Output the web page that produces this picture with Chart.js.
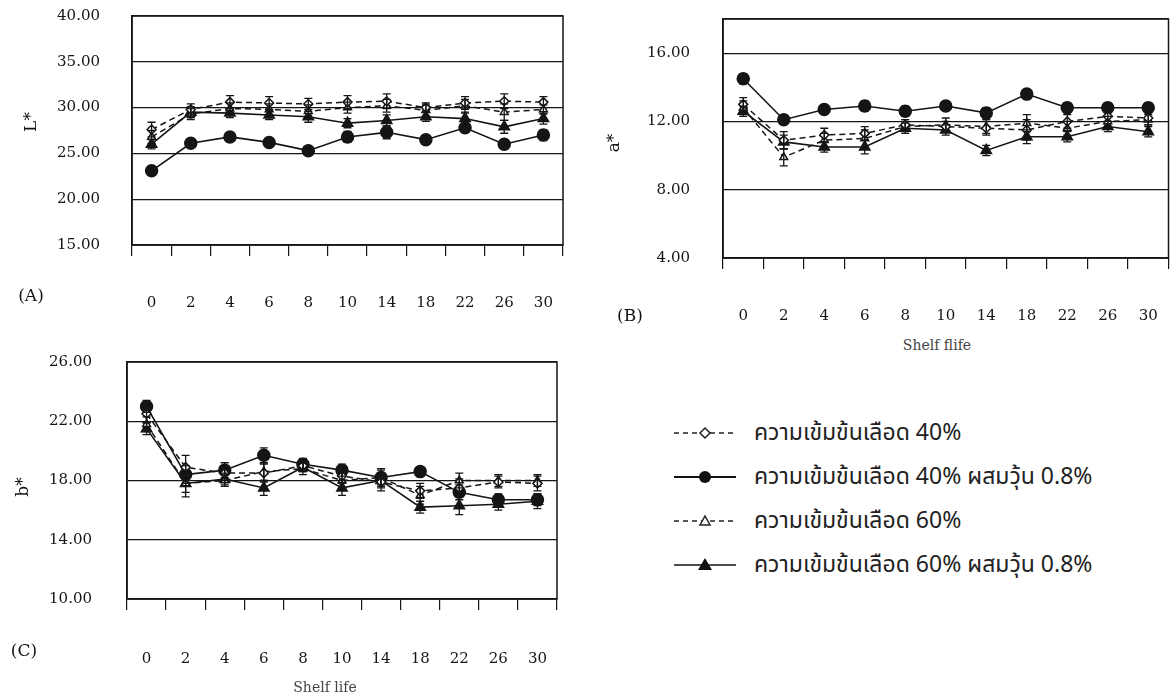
<!DOCTYPE html>
<html>
<head>
<meta charset="utf-8">
<script src="https://cdn.jsdelivr.net/npm/chart.js@4.4.1/dist/chart.umd.min.js"></script>
<style>
  body { margin: 0; background: #fff; width: 1176px; height: 696px; position: relative; overflow: hidden; }
  .box { position: absolute; }
  .lbl { position: absolute; font-family: "DejaVu Serif", serif; font-size: 17px; color: #111; white-space: nowrap; transform: translate(-50%, -50%); }
  .rot { transform: translate(-50%, -50%) rotate(-90deg); }
  .small { font-size: 14px; color: #444; }
  #legend { position: absolute; left: 674px; top: 411px; }
  .row { height: 44px; display: flex; align-items: center; }
  .row span { font-family: "Noto Sans Thai", "Noto Sans", sans-serif; font-size: 23px; margin-left: 18px; color: #222; }
</style>
</head>
<body>
<div class="box" style="left:0;top:0;width:580px;height:330px"><canvas id="chartL"></canvas></div>
<div class="box" style="left:580px;top:0;width:596px;height:330px"><canvas id="chartA"></canvas></div>
<div class="box" style="left:0;top:330px;width:580px;height:366px"><canvas id="chartB"></canvas></div>

<div class="lbl rot" style="left:30px;top:122px">L*</div>
<div class="lbl" style="left:31px;top:295px">(A)</div>
<div class="lbl rot" style="left:613px;top:143px">a*</div>
<div class="lbl" style="left:630px;top:315px">(B)</div>
<div class="lbl small" style="left:937px;top:345px">Shelf flife</div>
<div class="lbl rot" style="left:22px;top:487px">b*</div>
<div class="lbl" style="left:24px;top:650px">(C)</div>
<div class="lbl small" style="left:325px;top:687px">Shelf life</div>

<div id="legend">
  <div class="row">
    <svg width="62" height="20"><line x1="0" y1="10" x2="62" y2="10" stroke="#222" stroke-width="1.5" stroke-dasharray="5,4"/><polygon points="31,5 36,10 31,15 26,10" fill="#fff" stroke="#222" stroke-width="1.5"/></svg>
    <span>ความเข้มข้นเลือด 40%</span>
  </div>
  <div class="row">
    <svg width="62" height="20"><line x1="0" y1="10" x2="62" y2="10" stroke="#111" stroke-width="2"/><circle cx="31" cy="10" r="6" fill="#111"/></svg>
    <span>ความเข้มข้นเลือด 40% ผสมวุ้น 0.8%</span>
  </div>
  <div class="row">
    <svg width="62" height="20"><line x1="0" y1="10" x2="62" y2="10" stroke="#222" stroke-width="1.5" stroke-dasharray="5,4"/><polygon points="31,5 36,14 26,14" fill="#fff" stroke="#222" stroke-width="1.5"/></svg>
    <span>ความเข้มข้นเลือด 60%</span>
  </div>
  <div class="row">
    <svg width="62" height="20"><line x1="0" y1="10" x2="62" y2="10" stroke="#111" stroke-width="1.5"/><polygon points="31,3 38,15 24,15" fill="#111"/></svg>
    <span>ความเข้มข้นเลือด 60% ผสมวุ้น 0.8%</span>
  </div>
</div>

<script>
// shelf life (days)
const shelfDays = ['0', '2', '4', '6', '8', '10', '14', '18', '22', '26', '30'];
const seriesNames = ['ความเข้มข้นเลือด 40%', 'ความเข้มข้นเลือด 40% ผสมวุ้น 0.8%',
                     'ความเข้มข้นเลือด 60%', 'ความเข้มข้นเลือด 60% ผสมวุ้น 0.8%'];

// L*
const lBlood40     = [27.6, 29.8, 30.6, 30.5, 30.4, 30.6, 30.7, 30.0, 30.5, 30.7, 30.6];
const lBlood40Agar = [23.1, 26.1, 26.8, 26.2, 25.3, 26.8, 27.3, 26.5, 27.8, 26.0, 27.0];
const lBlood60     = [26.8, 29.3, 29.9, 29.8, 29.6, 30.0, 30.2, 29.7, 30.2, 29.5, 29.8];
const lBlood60Agar = [26.0, 29.5, 29.4, 29.2, 29.0, 28.3, 28.6, 29.0, 28.8, 27.9, 28.8];
const lErr40       = [0.8, 0.6, 0.7, 0.7, 0.6, 0.7, 0.8, 0.5, 0.7, 0.8, 0.6];
const lErr40Agar   = [0.4, 0.3, 0.4, 0.4, 0.3, 0.6, 0.7, 0.4, 0.5, 0.5, 0.6];
const lErr60       = [0.7, 0.6, 0.6, 0.6, 0.7, 0.6, 0.7, 0.6, 0.7, 0.9, 0.5];
const lErr60Agar   = [0.5, 0.6, 0.5, 0.5, 0.6, 0.5, 0.6, 0.5, 0.6, 0.7, 0.6];
const lTicks = [15, 20, 25, 30, 35, 40];

// a*
const aBlood40     = [13.0, 10.9, 11.2, 11.3, 11.8, 11.7, 11.6, 11.5, 12.0, 12.3, 12.2];
const aBlood40Agar = [14.5, 12.1, 12.7, 12.9, 12.6, 12.9, 12.5, 13.6, 12.8, 12.8, 12.8];
const aBlood60     = [12.8, 9.9, 10.9, 11.0, 11.7, 11.8, 11.7, 11.9, 11.6, 12.0, 12.1];
const aBlood60Agar = [12.6, 10.8, 10.5, 10.5, 11.6, 11.5, 10.3, 11.1, 11.1, 11.7, 11.4];
const aErr40       = [0.4, 0.5, 0.4, 0.4, 0.3, 0.3, 0.4, 0.6, 0.4, 0.3, 0.4];
const aErr40Agar   = [0.3, 0.2, 0.2, 0.3, 0.3, 0.2, 0.3, 0.2, 0.3, 0.3, 0.3];
const aErr60       = [0.4, 0.5, 0.4, 0.5, 0.3, 0.4, 0.4, 0.5, 0.4, 0.3, 0.3];
const aErr60Agar   = [0.3, 0.4, 0.3, 0.4, 0.3, 0.3, 0.3, 0.4, 0.3, 0.3, 0.3];
const aTicks = [4, 8, 12, 16];
const aMax = 18;

// b*
const bBlood40     = [22.5, 18.9, 18.5, 18.5, 19.0, 18.3, 17.9, 17.3, 17.5, 17.9, 17.8];
const bBlood40Agar = [23.0, 18.4, 18.7, 19.7, 19.1, 18.7, 18.2, 18.6, 17.2, 16.7, 16.7];
const bBlood60     = [21.8, 17.8, 18.0, 18.6, 18.8, 18.0, 18.2, 17.0, 18.0, 18.0, 18.0];
const bBlood60Agar = [21.5, 17.8, 18.1, 17.5, 18.9, 17.5, 18.0, 16.2, 16.3, 16.4, 16.6];
const bErr40       = [0.6, 0.8, 0.5, 0.6, 0.4, 0.5, 0.6, 0.5, 0.6, 0.4, 0.5];
const bErr40Agar   = [0.4, 0.6, 0.5, 0.5, 0.4, 0.4, 0.5, 0.3, 0.5, 0.4, 0.4];
const bErr60       = [0.5, 0.9, 0.4, 0.6, 0.4, 0.5, 0.6, 0.6, 0.5, 0.4, 0.4];
const bErr60Agar   = [0.4, 0.6, 0.4, 0.5, 0.3, 0.5, 0.5, 0.4, 0.6, 0.4, 0.5];
const bTicks = [10, 14, 18, 22, 26];

const ink = '#151515';
const tickFont = { family: 'DejaVu Serif', size: 15 };

// outline around the plot area
const boxBorder = {
  id: 'boxBorder',
  afterDraw(chart) {
    const { ctx, chartArea: a } = chart;
    ctx.save();
    ctx.strokeStyle = ink;
    ctx.lineWidth = 1.5;
    ctx.strokeRect(a.left, a.top, a.right - a.left, a.bottom - a.top);
    ctx.restore();
  }
};

// vertical error bars with caps, from each dataset's "errors" array
const errorBars = {
  id: 'errorBars',
  afterDatasetsDraw(chart) {
    const { ctx } = chart;
    const yScale = chart.scales.y;
    ctx.save();
    ctx.strokeStyle = ink;
    ctx.lineWidth = 1.3;
    chart.data.datasets.forEach((ds, di) => {
      const meta = chart.getDatasetMeta(di);
      meta.data.forEach((pt, i) => {
        const e = ds.errors[i];
        const top = yScale.getPixelForValue(ds.data[i] + e);
        const bot = yScale.getPixelForValue(ds.data[i] - e);
        ctx.beginPath();
        ctx.moveTo(pt.x, top); ctx.lineTo(pt.x, bot);
        ctx.moveTo(pt.x - 4, top); ctx.lineTo(pt.x + 4, top);
        ctx.moveTo(pt.x - 4, bot); ctx.lineTo(pt.x + 4, bot);
        ctx.stroke();
      });
    });
    ctx.restore();
  }
};

// the tick padding would otherwise leak into the layout padding
function noPad(s) {
  s.paddingLeft = 0; s.paddingRight = 0; s.paddingTop = 0; s.paddingBottom = 0;
}

function makeChart(id, values, errors, ticks, max, geo) {
  const styles = [
    { borderDash: [6, 4], pointStyle: 'rectRot', pointRadius: 4.5, pointBackgroundColor: '#fff', borderWidth: 1.5 },
    { borderDash: [], pointStyle: 'circle', pointRadius: 6, pointBackgroundColor: ink, borderWidth: 1.6 },
    { borderDash: [6, 4], pointStyle: 'triangle', pointRadius: 4.5, pointBackgroundColor: '#fff', borderWidth: 1.5 },
    { borderDash: [], pointStyle: 'triangle', pointRadius: 6, pointBackgroundColor: ink, borderWidth: 1.6 }
  ];
  return new Chart(document.getElementById(id), {
    type: 'line',
    data: {
      labels: shelfDays,
      datasets: values.map((v, i) => Object.assign({
        label: seriesNames[i],
        data: v,
        errors: errors[i],
        borderColor: ink,
        pointBorderColor: ink,
        pointBorderWidth: 1.5,
        tension: 0
      }, styles[i]))
    },
    options: {
      responsive: true,
      maintainAspectRatio: false,
      animation: false,
      layout: { padding: { top: geo.top, right: geo.right, left: 0, bottom: 0 } },
      plugins: { legend: { display: false }, tooltip: { enabled: false } },
      scales: {
        x: {
          offset: true,
          grid: { offset: true, drawOnChartArea: false, tickLength: 11, color: ink, lineWidth: 1.2 },
          border: { color: ink, width: 1.5 },
          ticks: { font: tickFont, color: ink, padding: geo.xPad, maxRotation: 0, autoSkip: false },
          afterFit: s => { s.height = geo.xHeight; noPad(s); }
        },
        y: {
          min: ticks[0],
          max: max,
          ticks: {
            stepSize: ticks[1] - ticks[0],
            font: tickFont,
            color: ink,
            padding: geo.yPad,
            callback: v => ticks.includes(v) ? v.toFixed(2) : ''
          },
          grid: { color: ink, lineWidth: 1.2, drawTicks: false },
          border: { color: ink, width: 1.5 },
          afterFit: s => { s.width = geo.yWidth; noPad(s); }
        }
      }
    },
    plugins: [boxBorder, errorBars]
  });
}

makeChart('chartL', [lBlood40, lBlood40Agar, lBlood60, lBlood60Agar],
  [lErr40, lErr40Agar, lErr60, lErr60Agar], lTicks, 40,
  { top: 16, right: 17, yWidth: 132, xHeight: 85, xPad: 38, yPad: 32 });
makeChart('chartA', [aBlood40, aBlood40Agar, aBlood60, aBlood60Agar],
  [aErr40, aErr40Agar, aErr60, aErr60Agar], aTicks, aMax,
  { top: 19, right: 3, yWidth: 143, xHeight: 72, xPad: 38, yPad: 33 });
makeChart('chartB', [bBlood40, bBlood40Agar, bBlood60, bBlood60Agar],
  [bErr40, bErr40Agar, bErr60, bErr60Agar], bTicks, 26,
  { top: 32, right: 23, yWidth: 127, xHeight: 97, xPad: 40, yPad: 35 });
</script>
</body>
</html>
